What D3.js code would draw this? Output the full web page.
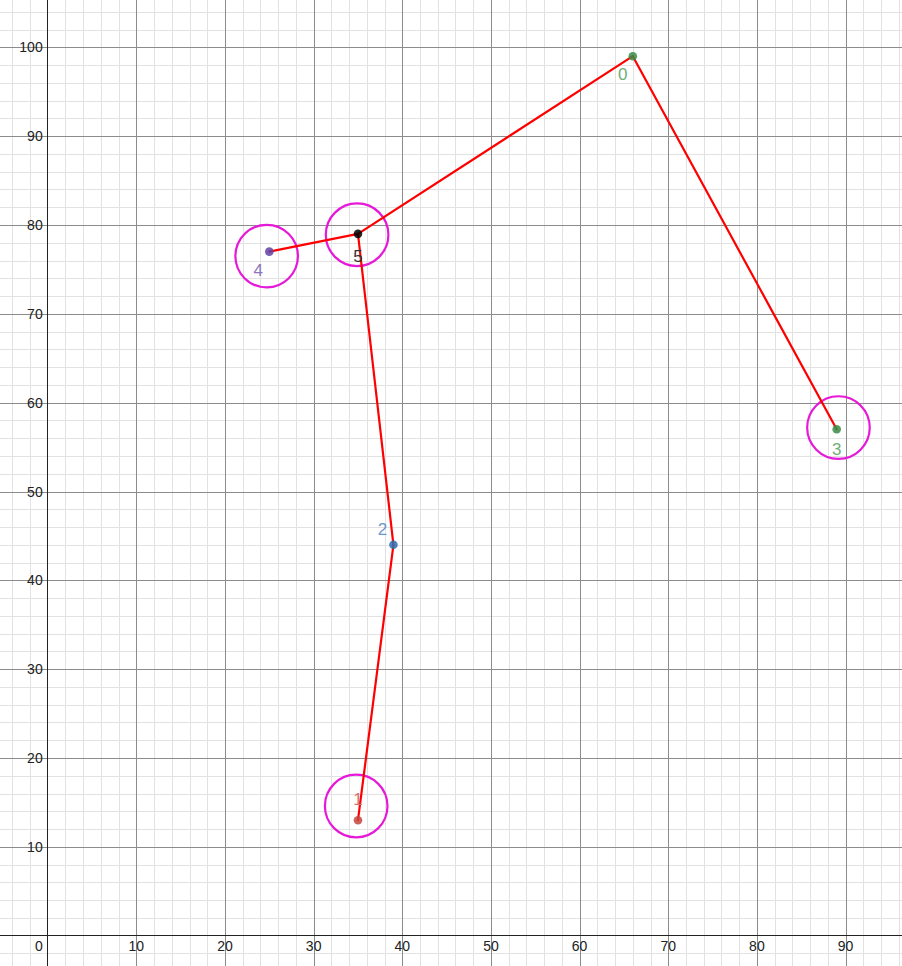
<!DOCTYPE html>
<html><head><meta charset="utf-8">
<script src="https://cdn.jsdelivr.net/npm/d3@7"></script>
<style>html,body{margin:0;padding:0;background:#fff;}svg{display:block;}</style>
</head><body>
<script>
// Data
const pointIds = ["0","1","2","3","4","5"];
const pointX = [66, 35, 39, 89, 25, 35];
const pointY = [99, 13, 44, 57, 77, 79];
const pointColors = ["#388c46","#c74440","#2d70b3","#388c46","#6042a6","#000000"];
const labelColors = ["#6fae7a","#d9706c","#6c98cc","#6fae7a","#8a76c0","#333333"];
const edges = [[0,5],[5,4],[5,2],[2,1],[0,3]];
const circleX = [24.7, 34.9, 89.2, 34.8];
const circleY = [76.5, 78.9, 57.2, 14.6];
const circleR = 3.53;
const xTicks = [10,20,30,40,50,60,70,80,90];
const yTicks = [10,20,30,40,50,60,70,80,90,100];
const labelOffsets = [[-10,18],[0,-21],[-11,-16],[0,20],[-11,18],[0,22]];

const W = 902, H = 966;
const x0 = 47.7, y0 = 935.7, kx = 8.865, ky = 8.884;
const x = d3.scaleLinear().domain([-x0/kx, (W-x0)/kx]).range([0, W]);
const y = d3.scaleLinear().domain([-(H-y0)/ky, y0/ky]).range([H, 0]);

const svg = d3.select("body").append("svg").attr("width", W).attr("height", H)
  .style("font-family", "Arial, 'Liberation Sans', sans-serif");

const minorX = d3.range(-4, 98, 2).filter(v => v % 10 !== 0);
const minorY = d3.range(-2, 106, 2).filter(v => v % 10 !== 0);
const majorX = d3.range(0, 100, 10).filter(v => v !== 0);
const majorY = d3.range(0, 110, 10).filter(v => v !== 0);

const g = svg.append("g").attr("shape-rendering", "crispEdges");
g.selectAll(".mx").data(minorX).join("line").attr("x1", d => Math.round(x(d))+0.5).attr("x2", d => Math.round(x(d))+0.5)
  .attr("y1", 0).attr("y2", H).attr("stroke", "#e2e2e2").attr("stroke-width", 1);
g.selectAll(".my").data(minorY).join("line").attr("y1", d => Math.round(y(d))+0.5).attr("y2", d => Math.round(y(d))+0.5)
  .attr("x1", 0).attr("x2", W).attr("stroke", "#e2e2e2").attr("stroke-width", 1);
g.selectAll(".Mx").data(majorX).join("line").attr("x1", d => Math.round(x(d))+0.5).attr("x2", d => Math.round(x(d))+0.5)
  .attr("y1", 0).attr("y2", H).attr("stroke", "#8c8c8c").attr("stroke-width", 1);
g.selectAll(".My").data(majorY).join("line").attr("y1", d => Math.round(y(d))+0.5).attr("y2", d => Math.round(y(d))+0.5)
  .attr("x1", 0).attr("x2", W).attr("stroke", "#8c8c8c").attr("stroke-width", 1);
// axes
g.append("line").attr("x1", x(0)).attr("x2", x(0)).attr("y1", 0).attr("y2", H).attr("stroke", "#222").attr("stroke-width", 1.5);
g.append("line").attr("y1", y(0)).attr("y2", y(0)).attr("x1", 0).attr("x2", W).attr("stroke", "#222").attr("stroke-width", 1.5);

// tick labels
svg.selectAll(".xt").data(xTicks).join("text").attr("x", d => x(d)).attr("y", y(0) + 15)
  .attr("text-anchor", "middle").attr("font-size", 14).attr("fill", "#222").text(d => d);
svg.selectAll(".yt").data(yTicks).join("text").attr("x", x(0) - 5).attr("y", d => y(d) + 5)
  .attr("text-anchor", "end").attr("font-size", 14).attr("fill", "#222").text(d => d);
svg.append("text").attr("x", x(0) - 5).attr("y", y(0) + 15).attr("text-anchor", "end")
  .attr("font-size", 14).attr("fill", "#222").text("0");

// circles
svg.selectAll(".ring").data(circleX).join("circle")
  .attr("cx", (d,i) => x(d)).attr("cy", (d,i) => y(circleY[i]))
  .attr("r", x(circleR) - x(0)).attr("fill", "none").attr("stroke", "#e619d8").attr("stroke-width", 2.2);

// edges
svg.selectAll(".edge").data(edges).join("line")
  .attr("x1", d => x(pointX[d[0]])).attr("y1", d => y(pointY[d[0]]))
  .attr("x2", d => x(pointX[d[1]])).attr("y2", d => y(pointY[d[1]]))
  .attr("stroke", "#ff0000").attr("stroke-width", 2.2).attr("stroke-linecap", "round");

// points
svg.selectAll(".pt").data(pointX).join("circle")
  .attr("cx", d => x(d)).attr("cy", (d,i) => y(pointY[i])).attr("r", 4.3)
  .attr("fill", (d,i) => pointColors[i]).attr("opacity", 0.85);

// labels
svg.selectAll(".lbl").data(pointIds).join("text")
  .attr("x", (d,i) => x(pointX[i]) + labelOffsets[i][0])
  .attr("y", (d,i) => y(pointY[i]) + labelOffsets[i][1] + 6)
  .attr("text-anchor", "middle").attr("font-size", 17)
  .attr("fill", (d,i) => labelColors[i]).text(d => d);
</script>
</body></html>
